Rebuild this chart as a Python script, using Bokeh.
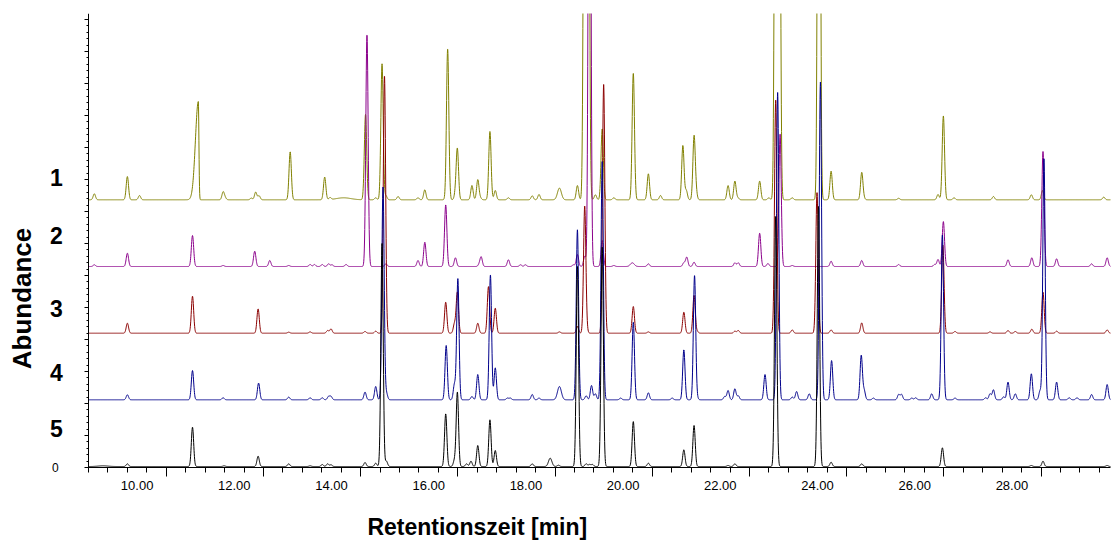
import numpy as np
from bokeh.plotting import figure
from bokeh.models import FixedTicker, Label
from bokeh.embed import file_html
from bokeh.resources import INLINE

# ---------------- data (retention time [min], peak height [abundance units]) ----------------
run_names = ["1", "2", "3", "4", "5"]
run_colors = ["#808000", "#8B008B", "#8B0000", "#00008B", "#000000"]
run_baselines = [267.7, 201.0, 134.3, 67.7, 1.0]

rt_1 = [9.12, 9.80, 10.05, 11.77, 11.81, 12.35, 12.44, 12.51, 13.15, 13.86, 13.97, 14.70, 14.91,
        15.04, 15.12, 15.37, 15.78, 15.92, 16.39, 16.55, 16.59, 16.89, 17.01, 17.06, 17.26, 17.37,
        17.64, 18.13, 18.27, 19.06, 19.21, 19.28, 19.43, 19.57, 19.81, 20.21, 20.52, 20.77, 21.23,
        21.30, 21.46, 21.50, 22.16, 22.30, 22.36, 22.81, 23.00, 23.14, 23.21, 23.48, 24.03, 24.28,
        24.91, 24.95, 25.67, 26.48, 26.59, 26.81, 27.62, 28.40, 28.63, 29.89]
h_1 = [6, 23.3, 4.3, 7.7, 2, 1.7, 7.7, 4, 48, 22.7, 2, 85.3, 2,
       136, 4, 3.3, 2, 10, 151, 6, 50.3, 14.3, 20, 2, 68.3, 9.3,
       2, 4, 5.3, 14.3, 600, 600, 5, 71, 2, 126.7, 26, 4.3, 54.3,
       9.3, 62.7, 7.7, 14.3, 18.7, 2, 18.7, 2, 600, 600, 2, 900, 28.7,
       27, 2, 1.5, 5.3, 84, 2, 3.3, 5, 9.3, 2.7]
broad_1 = [(11.26, 98.3, 0.060, 0.012), (14.25, 2.0, 0.15, 0.15), (18.69, 11.7, 0.04, 0.04)]

rt_2 = [9.12, 9.80, 11.14, 11.77, 12.42, 12.73, 13.12, 13.56, 13.65, 13.81, 13.94, 14.01, 14.30,
        14.73, 15.12, 15.78, 15.92, 16.35, 16.55, 17.04, 17.08, 17.64, 17.89, 17.99, 18.98, 19.06,
        19.21, 19.31, 19.57, 19.81, 20.52, 21.25, 21.31, 21.46, 22.30, 22.37, 22.81, 22.98, 23.23,
        23.48, 24.28, 24.91, 25.67, 26.41, 26.48, 26.59, 27.92, 28.41, 28.64, 28.92, 29.64, 29.96]
h_2 = [1.7, 13.3, 31, 1, 15.3, 6, 1, 2, 2, 2, 2.7, 1.7, 2,
       232, 2.7, 6, 24.3, 61.7, 8.7, 2, 9.3, 6.7, 1.7, 1.7, 1.7, 12,
       10, 700, 26, 1, 2.7, 3.7, 9.3, 4.3, 3.7, 3.7, 33.3, 3, 132.7,
       1, 5.3, 6, 2, 2, 7, 45, 6.7, 8.7, 115, 7.7, 2.7, 8.7]
broad_2 = [(20.19, 3.7, 0.04, 0.04)]

rt_3 = [9.80, 11.14, 12.49, 13.12, 13.56, 13.92, 13.99, 14.69, 14.91, 15.09, 16.35, 16.53, 16.59,
        17.01, 17.23, 17.37, 18.69, 19.06, 19.21, 19.25, 19.60, 20.21, 20.52, 21.25, 21.46, 21.52,
        22.30, 22.37, 23.14, 23.48, 23.99, 24.28, 24.91, 26.58, 26.83, 27.55, 27.92, 28.07, 28.41,
        28.64, 28.92, 29.96]
h_3 = [10, 37, 24.3, 1, 1.3, 2.7, 4.3, 1.7, 2, 257.7, 31, 9.3, 41,
       10, 46.7, 25, 1.3, 6.7, 126.7, 3, 248.7, 26.7, 1.3, 21, 37.7, 2,
       2, 2.7, 233, 3.3, 141, 3.3, 10.3, 88, 1.7, 1.3, 2.7, 1.7, 4,
       41, 2, 3.3]
broad_3 = []

rt_4 = [9.80, 11.14, 11.77, 12.50, 13.12, 13.56, 13.81, 13.94, 13.99, 14.69, 14.91, 15.06, 15.13,
        16.36, 16.53, 16.60, 16.89, 17.01, 17.27, 17.37, 17.62, 17.68, 18.13, 18.27, 19.06, 19.24,
        19.35, 19.43, 19.57, 19.95, 20.21, 20.52, 21.01, 21.25, 21.47, 21.52, 22.09, 22.16, 22.30,
        22.37, 22.92, 23.18, 23.48, 23.57, 23.83, 24.06, 24.29, 24.90, 24.96, 25.15, 25.67, 25.73,
        25.94, 26.02, 26.35, 26.57, 26.83, 27.46, 27.55, 27.62, 27.83, 27.92, 28.07, 28.40, 28.58,
        28.66, 28.92, 29.18, 29.34, 29.64, 29.96]
h_4 = [5, 29.3, 2, 16.7, 2.7, 2, 2, 3.3, 3.3, 7.7, 13.3, 212.7, 6.7,
       54.3, 15.3, 121, 3.3, 25.3, 125, 32, 1.7, 1.7, 5.3, 1.7, 170, 4,
       14.3, 6, 239, 1.7, 77.7, 7, 1.7, 50, 124.3, 2, 3.3, 9.3, 11,
       4, 25.3, 307.3, 2.7, 8.3, 6, 317.7, 39.3, 44.3, 9.3, 1.7, 5.3, 5.3,
       1.7, 2, 6, 165.3, 1.7, 2, 6, 10, 3, 17.7, 6, 26, 9,
       241, 17.7, 2, 2, 5.3, 15.3]
broad_4 = [(18.69, 13.3, 0.04, 0.04)]

rt_5 = [9.80, 11.14, 11.79, 12.49, 13.12, 13.56, 13.81, 13.92, 13.99, 14.69, 14.91, 15.04, 15.13,
        16.35, 16.53, 16.59, 16.78, 16.87, 17.01, 17.26, 17.37, 18.13, 18.67, 19.06, 19.24, 19.31,
        19.37, 19.57, 20.21, 20.52, 21.25, 21.46, 22.16, 22.30, 23.14, 24.02, 24.28, 24.91, 26.57,
        28.40, 28.64, 29.96]
h_5 = [2.7, 39.3, 0.7, 10.3, 2.7, 0.7, 2, 2.7, 1.7, 4, 3.3, 223, 5.3,
       52.7, 6, 74.3, 2.7, 5.3, 21, 46.7, 16, 2.7, 1.3, 200, 2.7, 2,
       2, 220, 45, 3.3, 16.7, 41, 1, 2.7, 250, 260, 4.3, 2.7, 18.7,
       1, 5.3, 1]
broad_5 = [(9.30, 0.7, 0.1, 0.1), (18.50, 8.3, 0.035, 0.035)]

peak_times = [rt_1, rt_2, rt_3, rt_4, rt_5]
peak_heights = [h_1, h_2, h_3, h_4, h_5]
broad_peaks = [broad_1, broad_2, broad_3, broad_4, broad_5]

x_tick_labels = [10, 12, 14, 16, 18, 20, 22, 24, 26, 28]
x_major_ticks = [10.6, 12.6, 14.6, 16.6, 18.6, 20.6, 22.6, 24.6, 26.6, 28.6]

# ---------------- figure ----------------
T0, T1 = 9.0, 30.03          # time axis extent
A0, A1 = 0.0, 454.0          # abundance axis extent
PX_PER_MIN = 48.6
XL = T0 - 88 / PX_PER_MIN
XR = XL + 1111 / PX_PER_MIN
YB = A0 - 75.0
SIGMA = 0.024

p = figure(width=1111, height=542, x_range=(XL, XR), y_range=(YB, A1),
           output_backend="svg", toolbar_location=None,
           min_border_left=0, min_border_right=0, min_border_top=13, min_border_bottom=0)
p.outline_line_color = None
p.xgrid.grid_line_color = None
p.ygrid.grid_line_color = None
p.background_fill_color = "white"
p.border_fill_color = "white"

t = np.arange(T0, T1 + 0.001, 0.004)
for name, col, base, rts, hs, brd in zip(run_names, run_colors, run_baselines,
                                          peak_times, peak_heights, broad_peaks):
    y = np.full_like(t, base)
    for r, h in zip(rts, hs):
        y += h * np.exp(-0.5 * ((t - r) / SIGMA) ** 2)
    for r, h, sl, sr in brd:
        s = np.where(t < r, sl, sr)
        y += h * np.exp(-0.5 * ((t - r) / s) ** 2)
    p.line(t, y, line_color=col, line_width=1)

# x axis (ticks only, drawn at abundance 0)
xa = p.xaxis[0]
xa.fixed_location = A0
xa.bounds = (T0, T1)
minor_x = [round(T0 + 0.4 * k, 2) for k in range(int((T1 - T0) / 0.4) + 1)]
xa.ticker = FixedTicker(ticks=x_major_ticks, minor_ticks=minor_x)
xa.major_label_overrides = {v: "" for v in x_major_ticks}
xa.major_tick_out = 9
xa.major_tick_in = 0
xa.minor_tick_out = 5
xa.minor_tick_in = 0
xa.axis_line_color = "black"

# y axis (ticks only, drawn at t = 9.0)
ya = p.yaxis[0]
ya.fixed_location = T0
ya.bounds = (A0, A1)
major_y = [32 * k for k in range(15)]
minor_y = [round(6.4 * k, 1) for k in range(71)]
ya.ticker = FixedTicker(ticks=major_y, minor_ticks=minor_y)
ya.major_label_overrides = {v: "" for v in major_y}
ya.major_tick_out = 4
ya.major_tick_in = 0
ya.minor_tick_out = 2
ya.minor_tick_in = 0
ya.axis_line_color = "black"

FONT = "Liberation Sans"
for v in x_tick_labels:
    p.add_layout(Label(x=v, y=-18, text="%.2f" % v, text_align="center", text_baseline="middle",
                       text_font=FONT, text_font_size="13px", text_color="black"))

p.add_layout(Label(x=8.32, y=0, text="0", text_align="center", text_baseline="middle",
                   text_font=FONT, text_font_size="12px", text_color="black"))

run_label_y = [290.3, 232.3, 158.7, 95.3, 39.5]
for name, yy in zip(run_names, run_label_y):
    p.add_layout(Label(x=8.34, y=yy, text=name, text_align="center", text_baseline="middle",
                       text_font=FONT, text_font_size="23px", text_font_style="bold",
                       text_color="black"))

p.add_layout(Label(x=7.64, y=169, text="Abundance", angle=np.pi / 2, text_align="center",
                   text_baseline="middle", text_font=FONT, text_font_size="26px",
                   text_font_style="bold", text_color="black"))
p.add_layout(Label(x=17.0, y=-59, text="Retentionszeit [min]", text_align="center",
                   text_baseline="middle", text_font=FONT, text_font_size="23px",
                   text_font_style="bold", text_color="black"))

open("out.html", "w").write(file_html(p, INLINE))
